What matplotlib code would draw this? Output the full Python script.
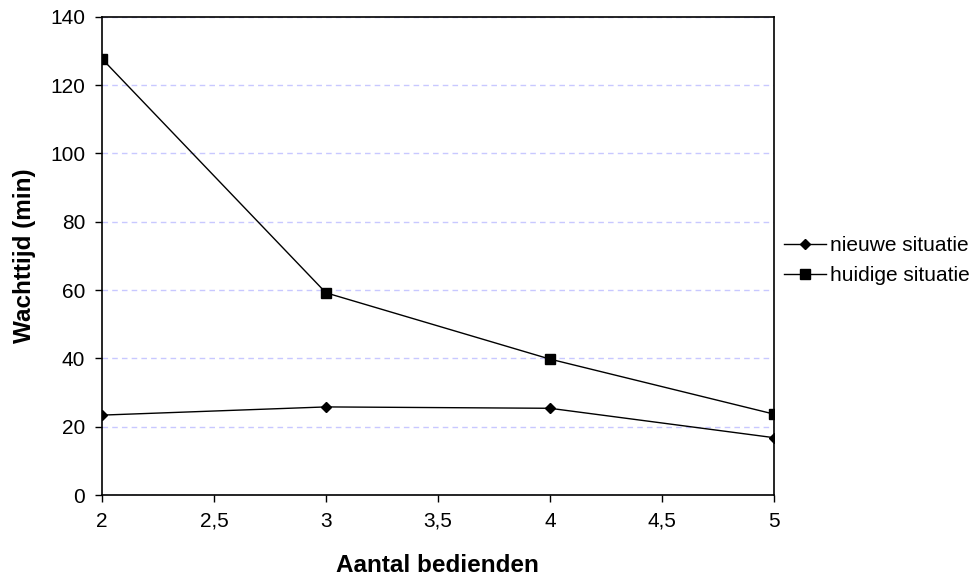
import matplotlib.pyplot as plt
from matplotlib.ticker import FuncFormatter

plt.rcParams['font.family'] = ['Liberation Sans', 'DejaVu Sans']

bedienden = [2, 3, 4, 5]
nieuwe = [23.4, 25.8, 25.4, 16.8]
huidige = [127.7, 59.2, 39.8, 23.7]

fig = plt.figure(figsize=(9.71, 5.77), dpi=100)
ax = fig.add_axes([0.105, 0.142, 0.692, 0.829])

ax.plot(bedienden, nieuwe, color='black', lw=1, marker='D', ms=5.5, label='nieuwe situatie')
ax.plot(bedienden, huidige, color='black', lw=1, marker='s', ms=7, label='huidige situatie')

ax.set_xlim(2, 5)
ax.set_ylim(0, 140)
ax.set_xticks([2, 2.5, 3, 3.5, 4, 4.5, 5])
ax.set_yticks(range(0, 141, 20))
ax.xaxis.set_major_formatter(FuncFormatter(lambda v, p: ('%g' % v).replace('.', ',')))
ax.grid(axis='y', color='#c8c8ff', ls=(0, (4, 3)), lw=1)
ax.set_axisbelow(True)
ax.tick_params(direction='out', length=5, labelsize=15, width=1, pad=7)
for s in ax.spines.values():
    s.set_linewidth(1.2)

ax.set_xlabel('Aantal bedienden', fontsize=17.5, fontweight='bold', labelpad=17)
ax.set_ylabel('Wachttijd (min)', fontsize=17.5, fontweight='bold', labelpad=10)

ax.legend(loc='center left', bbox_to_anchor=(1.0, 0.49), frameon=False, fontsize=15,
          handlelength=2.0, handletextpad=0.2, labelspacing=0.5, borderaxespad=0.1)

fig.savefig('out.png', dpi=100)
